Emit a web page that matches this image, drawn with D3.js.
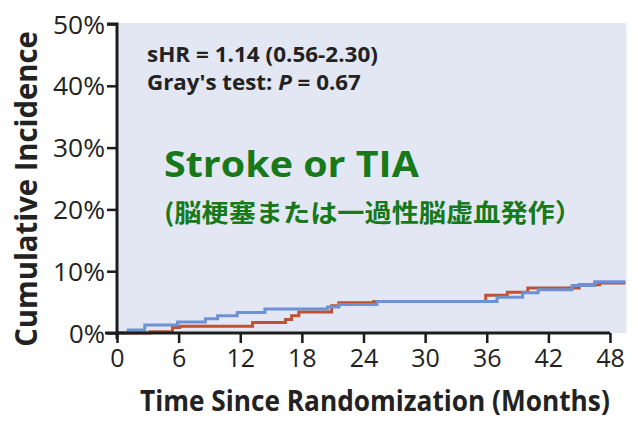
<!DOCTYPE html>
<html><head><meta charset="utf-8">
<script src="https://cdn.jsdelivr.net/npm/d3@7"></script>
<style>
html,body{margin:0;padding:0;background:#fff;}
svg{display:block;}
</style></head>
<body>
<svg id="chart" width="638" height="421"></svg>
<script>
// ---- data ----
const xTicks = [0, 6, 12, 18, 24, 30, 36, 42, 48];
const yTicks = [0, 10, 20, 30, 40, 50];
// step curves: [month, cumulative incidence %]
const blueMonths = [0, 1.1, 2.7, 5.9, 8.6, 9.8, 11.7, 14.4, 20.5, 21.6, 25.3, 37.0, 39.5, 41.0, 44.3, 46.5, 49.5];
const blueValues = [0, 0.5, 1.3, 1.8, 2.3, 2.8, 3.3, 3.9, 4.2, 4.6, 5.1, 5.8, 6.5, 7.0, 7.7, 8.3, 8.3];
const redMonths  = [0, 3.2, 5.4, 6.1, 13.2, 16.4, 17.0, 17.7, 20.9, 21.6, 25.0, 35.9, 38.0, 40.0, 45.0, 47.0, 49.5];
const redValues  = [0, 0.2, 0.9, 1.1, 1.7, 2.2, 2.8, 3.4, 4.4, 4.9, 5.1, 6.1, 6.6, 7.3, 7.8, 8.1, 8.1];
const statLine1 = "sHR = 1.14 (0.56-2.30)";
const statLine2a = "Gray's test: ";
const statLine2b = "P";
const statLine2c = " = 0.67";
const titleEn = "Stroke or TIA";
const titleJa = "(脳梗塞または一過性脳虚血発作）";
const yTitle = "Cumulative Incidence";
const xTitle = "Time Since Randomization (Months)";

// ---- layout ----
const svg = d3.select("#chart");
const x = d3.scaleLinear().domain([0, 48]).range([117, 610]);
const y = d3.scaleLinear().domain([0, 50]).range([333, 24]);
const axisColor = "#1c1c1c";
const textColor = "#222";
const green = "#17791a";
const condensed = "'Liberation Sans Narrow', 'Open Sans', sans-serif";

// place a text at (tx,ty) with optional rotation, squeezed horizontally to a target width
function fitText(sel, tx, ty, width, rot) {
  const natural = sel.node().getComputedTextLength();
  const sx = width / natural;
  sel.attr("x", 0).attr("y", 0)
    .attr("transform", `translate(${tx},${ty})${rot ? ` rotate(${rot})` : ""} scale(${sx},1)`);
  return sel;
}

// plot background
svg.append("rect")
  .attr("x", x(0)).attr("y", y(50) - 1)
  .attr("width", x(49.6) - x(0)).attr("height", y(0) - y(50) + 1)
  .attr("fill", "#e3e7f3");

// curves
const line = d3.line().x(d => x(d[0])).y(d => y(d[1])).curve(d3.curveStepAfter);
const red = redMonths.map((m, i) => [m, redValues[i]]);
const blue = blueMonths.map((m, i) => [m, blueValues[i]]);
svg.append("path").datum(red).attr("d", line)
  .attr("fill", "none").attr("stroke", "#c0522f").attr("stroke-width", 3);
svg.append("path").datum(blue).attr("d", line)
  .attr("fill", "none").attr("stroke", "#6e91d4").attr("stroke-width", 3);

// axes
const yAxis = svg.append("g").attr("transform", `translate(${x(0)},0)`)
  .call(d3.axisLeft(y).tickValues(yTicks).tickFormat(d => d + "%").tickSize(10).tickPadding(2));
const xAxis = svg.append("g").attr("transform", `translate(0,${y(0)})`)
  .call(d3.axisBottom(x).tickValues(xTicks).tickSize(10).tickPadding(3));
[yAxis, xAxis].forEach(g => {
  g.select(".domain").attr("stroke", axisColor).attr("stroke-width", 3);
  g.selectAll(".tick line").attr("stroke", axisColor).attr("stroke-width", 2.5);
  g.selectAll(".tick text").attr("fill", textColor)
    .style("font-family", "'Open Sans', 'Liberation Sans', sans-serif")
    .style("font-size", "25px");
});
yAxis.select(".domain").attr("d", `M-10,${y(50)}H0V${y(0) + 6}`);
xAxis.select(".domain").attr("d", `M${x(0) - 12},0H${x(48)}`);
yAxis.selectAll(".tick text").attr("dy", "0.36em")
  .attr("textLength", d => d === 0 ? 36 : 52).attr("lengthAdjust", "spacingAndGlyphs");
xAxis.selectAll(".tick text").attr("dy", "0.82em");

// titles
fitText(svg.append("text")
  .attr("text-anchor", "middle")
  .attr("fill", textColor)
  .style("font-family", condensed)
  .style("font-weight", "bold").style("font-size", "31px")
  .text(yTitle), 37, (30 + 348) / 2, 316, -90);
fitText(svg.append("text")
  .attr("fill", textColor)
  .style("font-family", condensed)
  .style("font-weight", "bold").style("font-size", "28px")
  .text(xTitle), 140, 411, 470);

// statistics annotation
fitText(svg.append("text")
  .attr("fill", textColor)
  .style("font-family", condensed)
  .style("font-weight", "bold").style("font-size", "22px")
  .text(statLine1), 147, 62, 231);
const t2 = svg.append("text")
  .attr("fill", textColor)
  .style("font-family", condensed)
  .style("font-weight", "bold").style("font-size", "22px");
t2.append("tspan").text(statLine2a);
t2.append("tspan").style("font-style", "italic").text(statLine2b);
t2.append("tspan").text(statLine2c);
fitText(t2, 147, 90, 214);

// green title
fitText(svg.append("text")
  .attr("fill", green)
  .style("font-family", "'Open Sans', 'Noto Sans', sans-serif")
  .style("font-weight", "bold").style("font-size", "35px")
  .text(titleEn), 164, 177, 255);
fitText(svg.append("text")
  .attr("fill", green)
  .style("font-family", "'Noto Sans CJK JP', sans-serif")
  .style("font-weight", "bold").style("font-size", "25px")
  .text(titleJa), 164, 222, 418);
</script>
</body></html>
